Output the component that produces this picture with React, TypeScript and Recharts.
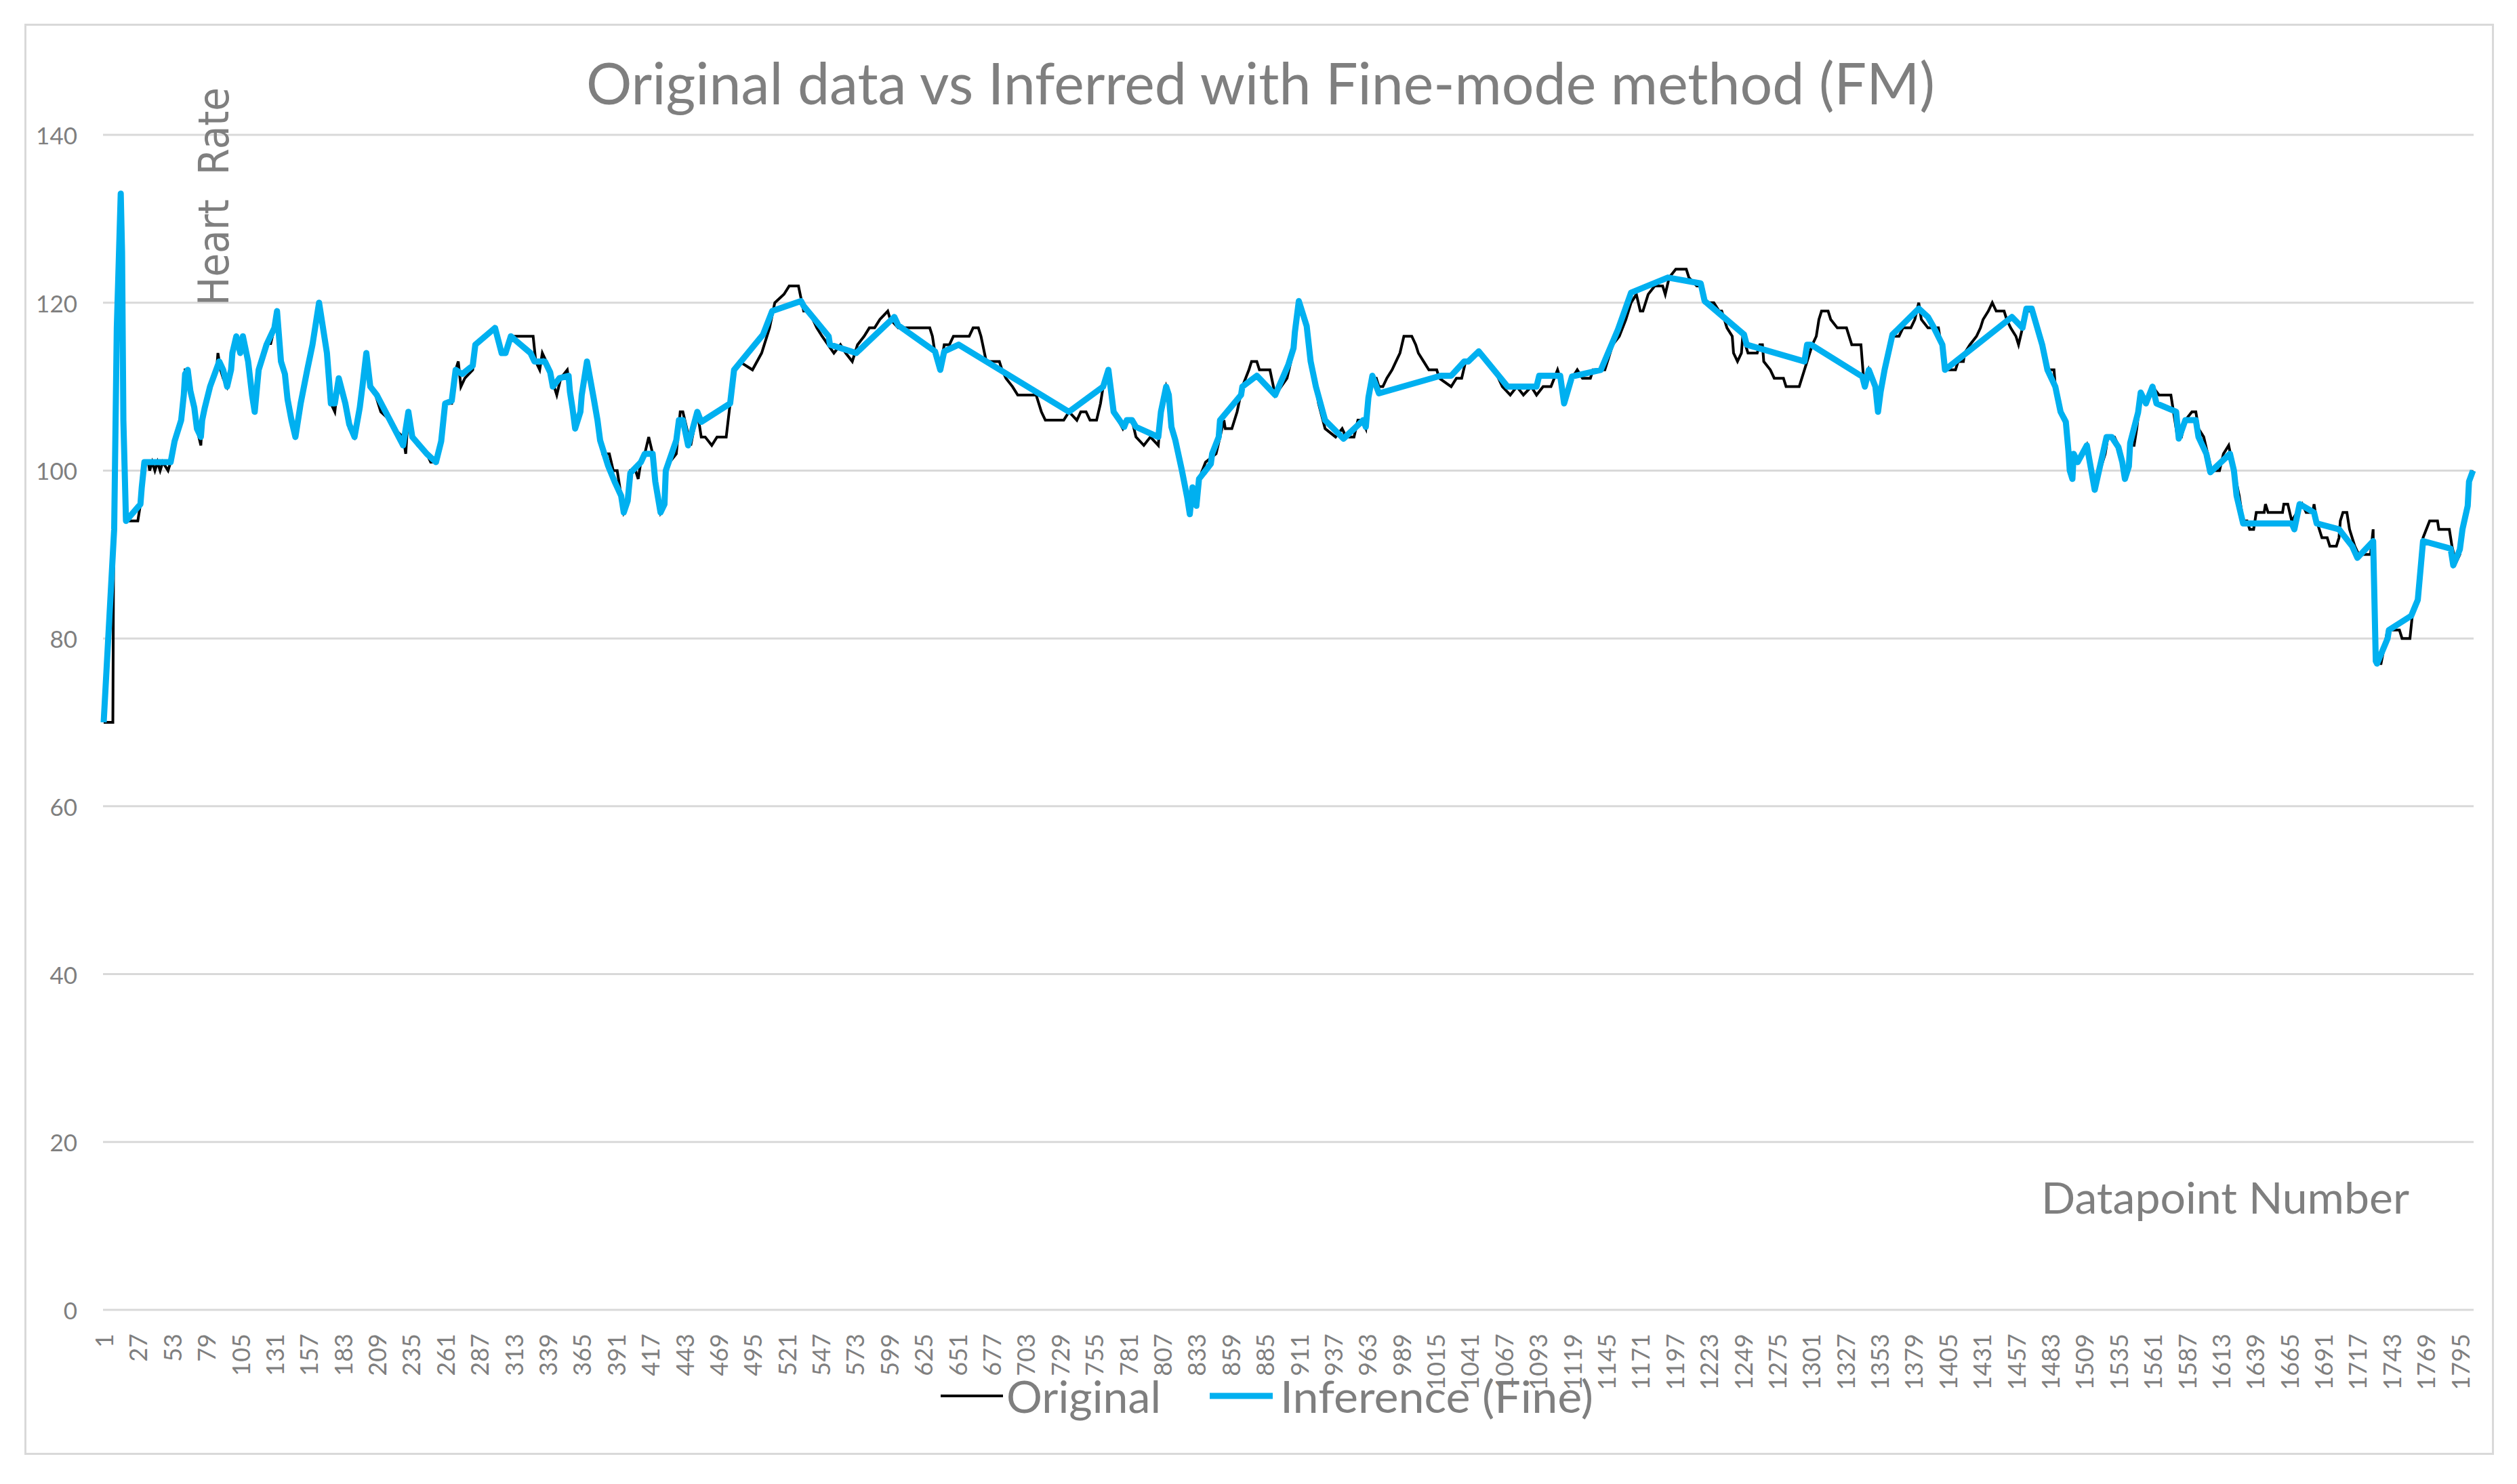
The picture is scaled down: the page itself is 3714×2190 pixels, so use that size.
import React from "react"
import { LineChart, Line, XAxis, YAxis, CartesianGrid, Legend } from "recharts"

// datapoint index / heart rate (vertices of each polyline)
const originalPoints: [number, number][] = [
  [1, 70], [8, 70], [9, 105], [10, 105], [11, 121], [12, 121], [13, 133], [14, 133], [15, 110], [16, 105], [17, 94], [27, 94],
  [29, 96], [30, 98], [31, 101], [35, 101], [36, 100], [38, 101], [40, 100], [42, 101], [44, 100], [46, 101], [50, 100], [52, 101],
  [55, 104], [60, 106], [62, 109], [63, 112], [65, 112], [67, 109], [70, 107], [72, 105], [75, 103], [76, 106], [78, 108], [82, 110],
  [87, 112], [88, 114], [90, 112], [92, 111], [95, 110], [98, 112], [99, 114], [102, 116], [105, 114], [107, 116], [111, 113], [114, 108],
  [116, 107], [119, 112], [125, 115], [127, 116], [128, 115], [131, 117], [133, 119], [136, 113], [139, 111], [141, 108], [144, 106], [147, 104],
  [151, 108], [156, 112], [160, 115], [162, 117], [165, 120], [168, 117], [171, 114], [174, 108], [177, 107], [180, 111], [185, 108], [188, 105],
  [192, 104], [196, 107], [198, 110], [201, 114], [204, 110], [208, 109], [212, 107], [219, 106], [222, 105], [229, 104], [231, 102], [233, 107],
  [236, 104], [240, 103], [247, 102], [250, 101], [254, 101], [258, 103], [261, 108], [266, 108], [269, 112], [271, 113], [273, 110], [276, 111],
  [282, 112], [284, 115], [290, 116], [299, 117], [304, 114], [307, 114], [311, 116], [314, 116], [328, 116], [330, 113], [333, 112], [335, 114],
  [338, 113], [342, 111], [346, 109], [349, 111], [354, 112], [356, 110], [358, 107], [360, 105], [364, 107], [365, 109], [369, 113], [374, 109],
  [377, 106], [379, 104], [381, 102], [386, 102], [389, 100], [392, 100], [395, 97], [397, 95], [400, 96], [402, 100], [406, 100], [408, 99],
  [410, 101], [413, 102], [416, 104], [419, 102], [421, 99], [425, 95], [428, 96], [429, 100], [432, 101], [437, 102], [440, 107], [442, 107],
  [445, 105], [448, 103], [453, 107], [456, 104], [459, 104], [464, 103], [468, 104], [475, 104], [478, 108], [481, 112], [485, 113], [495, 112],
  [502, 114], [508, 117], [512, 120], [519, 121], [523, 122], [530, 122], [534, 119], [538, 119], [544, 117], [548, 116], [557, 114], [562, 115],
  [566, 114], [571, 113], [575, 115], [580, 116], [584, 117], [588, 117], [592, 118], [598, 119], [600, 118], [606, 117], [630, 117], [632, 116],
  [634, 114], [638, 112], [641, 115], [645, 115], [648, 116], [660, 116], [663, 117], [667, 117], [669, 116], [673, 113], [683, 113], [685, 112],
  [688, 111], [693, 110], [697, 109], [711, 109], [715, 107], [718, 106], [732, 106], [736, 107], [742, 106], [745, 107], [749, 107], [752, 106],
  [757, 106], [760, 108], [762, 110], [765, 112], [770, 107], [777, 105], [780, 106], [784, 106], [787, 104], [793, 103], [798, 104], [804, 103],
  [806, 107], [810, 110], [812, 109], [814, 105], [817, 104], [822, 100], [826, 97], [828, 95], [830, 98], [833, 96], [835, 99], [840, 101],
  [848, 102], [851, 104], [854, 106], [855, 105], [860, 105], [864, 107], [868, 110], [873, 112], [875, 113], [879, 113], [881, 112], [889, 112],
  [893, 109], [902, 111], [905, 113], [908, 116], [911, 120], [917, 117], [920, 113], [924, 110], [926, 108], [931, 105], [939, 104], [944, 105],
  [947, 104], [953, 104], [956, 106], [959, 106], [962, 105], [964, 109], [968, 111], [970, 111], [972, 110], [975, 110], [978, 111], [982, 112],
  [985, 113], [988, 114], [991, 116], [997, 116], [1000, 115], [1002, 114], [1006, 113], [1010, 112], [1016, 112], [1018, 111], [1027, 110], [1031, 111],
  [1035, 111], [1038, 113], [1048, 114], [1054, 113], [1060, 112], [1066, 110], [1072, 109], [1077, 110], [1082, 109], [1088, 110], [1092, 109], [1097, 110],
  [1103, 110], [1108, 112], [1110, 111], [1113, 108], [1119, 111], [1123, 112], [1127, 111], [1133, 111], [1135, 112], [1144, 112], [1148, 114], [1150, 115],
  [1155, 116], [1160, 118], [1164, 120], [1168, 121], [1171, 119], [1173, 119], [1177, 121], [1182, 122], [1188, 122], [1190, 121], [1193, 123], [1198, 124],
  [1206, 124], [1208, 123], [1214, 122], [1217, 122], [1220, 120], [1227, 120], [1231, 119], [1233, 119], [1235, 118], [1237, 117], [1241, 116], [1242, 114],
  [1245, 113], [1248, 114], [1249, 116], [1251, 115], [1253, 114], [1260, 114], [1262, 115], [1264, 115], [1265, 113], [1270, 112], [1273, 111], [1280, 111],
  [1282, 110], [1292, 110], [1294, 111], [1298, 113], [1302, 115], [1305, 116], [1307, 118], [1309, 119], [1314, 119], [1316, 118], [1321, 117], [1328, 117],
  [1332, 115], [1339, 115], [1341, 111], [1342, 110], [1345, 112], [1350, 110], [1352, 107], [1354, 109], [1357, 112], [1363, 116], [1368, 116], [1371, 117],
  [1377, 117], [1380, 118], [1383, 120], [1385, 118], [1390, 117], [1398, 117], [1402, 113], [1405, 112], [1411, 112], [1413, 113], [1417, 113], [1418, 114],
  [1422, 115], [1427, 116], [1430, 117], [1432, 118], [1436, 119], [1439, 120], [1442, 119], [1448, 119], [1450, 118], [1453, 117], [1457, 116], [1459, 115],
  [1462, 117], [1464, 119], [1470, 119], [1474, 117], [1478, 115], [1481, 112], [1486, 112], [1487, 110], [1491, 107], [1495, 106], [1497, 102], [1498, 100],
  [1500, 99], [1501, 102], [1504, 101], [1508, 102], [1511, 103], [1517, 98], [1521, 100], [1525, 102], [1527, 104], [1532, 104], [1535, 103], [1538, 101],
  [1540, 99], [1543, 101], [1545, 103], [1547, 103], [1549, 105], [1552, 109], [1556, 108], [1561, 110], [1566, 109], [1575, 109], [1576, 108], [1580, 104],
  [1583, 104], [1586, 106], [1591, 107], [1594, 107], [1596, 105], [1600, 104], [1603, 102], [1606, 100], [1612, 100], [1615, 102], [1619, 103], [1623, 100],
  [1627, 97], [1630, 94], [1633, 94], [1635, 93], [1638, 93], [1640, 95], [1646, 95], [1647, 96], [1649, 95], [1660, 95], [1661, 96], [1664, 96],
  [1667, 94], [1671, 95], [1675, 96], [1678, 95], [1683, 95], [1684, 96], [1686, 94], [1690, 92], [1694, 92], [1696, 91], [1701, 91], [1703, 92],
  [1704, 94], [1706, 95], [1709, 95], [1711, 93], [1715, 91], [1718, 90], [1727, 90], [1729, 93], [1730, 78], [1731, 77], [1735, 77], [1740, 81],
  [1749, 81], [1751, 80], [1757, 80], [1759, 83], [1763, 85], [1767, 92], [1772, 94], [1778, 94], [1779, 93], [1787, 93], [1789, 91], [1792, 89],
  [1795, 90], [1797, 93], [1801, 96], [1802, 99], [1805, 100],
]

const inferencePoints: [number, number][] = [
  [1, 70], [9, 93], [11, 117], [14, 133], [15, 126], [16, 106], [18, 94], [29, 96], [30, 98], [32, 101], [52, 101], [55, 103.5],
  [60, 106], [62, 109], [63, 111.5], [65, 112], [67, 109.5], [70, 107.5], [72, 105], [75, 104], [76, 106], [78, 107.5], [82, 110], [89, 113],
  [92, 112], [95, 110], [98, 112], [99, 114], [102, 116], [105, 114], [107, 116], [111, 113], [114, 109], [116, 107], [119, 112], [125, 115],
  [128, 116], [131, 117], [133, 119], [136, 113], [139, 111.5], [141, 108.5], [144, 106], [147, 104], [151, 108], [156, 112], [160, 115], [165, 120],
  [168, 117], [171, 114], [174, 108], [177, 108], [180, 111], [185, 108], [188, 105.5], [192, 104], [196, 107.5], [198, 110], [201, 114], [204, 110],
  [209, 109], [219, 106], [229, 103], [233, 107], [236, 104], [247, 102], [254, 101], [258, 103.5], [261, 108], [266, 108.3], [269, 112], [274, 111.5],
  [282, 112.5], [284, 115], [299, 117], [304, 114], [307, 114], [311, 116], [326, 114], [329, 113], [337, 113], [341, 111.7], [343, 110], [348, 111],
  [355, 111.3], [356, 109.4], [358, 107.4], [360, 105], [364, 107], [365, 109], [369, 113], [374, 108.7], [377, 106], [379, 103.6], [385, 100.6], [390, 98.7],
  [395, 97], [397, 95], [400, 96.4], [402, 99.7], [410, 101], [413, 102], [419, 102], [421, 98.7], [425, 95], [428, 96], [429, 100], [437, 103.6],
  [439, 106], [442, 106], [446, 103], [453, 107], [456, 105.8], [478, 108], [481, 112], [503, 116.2], [510, 119], [532, 120.2], [534, 119.6], [553, 116],
  [554, 115], [574, 114], [603, 118.3], [606, 117.3], [634, 114.2], [638, 112], [641, 114.2], [652, 115], [736, 107], [762, 110], [766, 112], [770, 107],
  [778, 105.2], [780, 106], [784, 106], [787, 105.2], [804, 104], [806, 107], [810, 110], [812, 109], [814, 105.2], [817, 103.6], [822, 100], [826, 96.8],
  [828, 94.8], [830, 98], [833, 95.8], [835, 99], [844, 100.8], [845, 102], [850, 104], [851, 106], [867, 109], [868, 110], [879, 111.3], [893, 109],
  [903, 112.6], [907, 114.6], [908, 116.5], [911, 120.2], [917, 117.2], [920, 113], [924, 110], [931, 106], [945, 103.8], [960, 106], [962, 105.2], [964, 108.7],
  [967, 111.3], [972, 109.2], [1019, 111.3], [1027, 111.3], [1037, 113], [1040, 113], [1048, 114.2], [1070, 110], [1092, 110], [1094, 111.3], [1110, 111.3], [1113, 108],
  [1119, 111.2], [1141, 112], [1154, 116.8], [1164, 121.2], [1192, 123], [1217, 122.3], [1220, 120.2], [1250, 116.2], [1252, 115], [1296, 113], [1298, 115], [1301, 115],
  [1340, 111.2], [1342, 110], [1345, 112], [1350, 110], [1352, 107], [1354, 109.4], [1357, 112], [1363, 116.2], [1383, 119.3], [1390, 118.3], [1394, 117.2], [1401, 115],
  [1403, 112], [1454, 118.3], [1462, 117], [1465, 119.3], [1469, 119.3], [1477, 115], [1481, 112], [1487, 110], [1491, 107], [1495, 105.8], [1497, 102.3], [1498, 100],
  [1500, 99], [1501, 102], [1504, 101], [1511, 103], [1517, 97.7], [1526, 104], [1530, 104], [1532, 103.5], [1535, 102.8], [1538, 101], [1540, 99], [1543, 100.5],
  [1544, 103.3], [1550, 106.9], [1552, 109.3], [1556, 108], [1561, 110], [1564, 108], [1579, 107], [1581, 103.8], [1586, 106], [1594, 106], [1596, 104], [1602, 102],
  [1605, 99.8], [1620, 102], [1623, 100], [1625, 97], [1630, 93.7], [1667, 93.7], [1669, 93], [1673, 96], [1684, 95], [1686, 93.7], [1703, 93], [1713, 91],
  [1717, 89.6], [1729, 91.6], [1731, 77.3], [1732, 77], [1740, 80], [1741, 81], [1758, 82.7], [1763, 84.6], [1767, 91.6], [1788, 90.7], [1790, 88.7], [1795, 90.6],
  [1797, 93], [1801, 95.8], [1802, 98.7], [1805, 100],
]

const xTicks = [
  1, 27, 53, 79, 105, 131, 157, 183, 209, 235, 261, 287, 313, 339, 365, 391, 417, 443, 469, 495, 521, 547, 573, 599, 625,
  651, 677, 703, 729, 755, 781, 807, 833, 859, 885, 911, 937, 963, 989, 1015, 1041, 1067, 1093, 1119, 1145, 1171, 1197, 1223,
  1249, 1275, 1301, 1327, 1353, 1379, 1405, 1431, 1457, 1483, 1509, 1535, 1561, 1587, 1613, 1639, 1665, 1691, 1717, 1743, 1769, 1795,
]
const yTicks = [0, 20, 40, 60, 80, 100, 120, 140]
const pointCount = 1805

const originalData = originalPoints.map(([i, v]) => ({ i, v }))
const inferenceData = inferencePoints.map(([i, v]) => ({ i, v }))

const GREY = "#7f7f7f"
const FONT = "Lato, 'Open Sans', sans-serif"

const XTick = ({ x, y, payload }: any) => (
  <text
    x={x}
    y={y}
    transform={`rotate(-90, ${x}, ${y})`}
    textAnchor="end"
    dominantBaseline="central"
    fill={GREY}
    fontFamily={FONT}
    fontSize={36}
  >
    {payload.value}
  </text>
)

const YTick = ({ x, y, payload }: any) => (
  <text x={x} y={y} textAnchor="end" dominantBaseline="central" fill={GREY} fontFamily={FONT} fontSize={35}>
    {payload.value}
  </text>
)

const LegendBox = () => (
  <svg width={1000} height={110}>
    <line x1={8} x2={100} y1={60} y2={60} stroke="#000" strokeWidth={4} />
    <text x={105} y={85} fill={GREY} fontFamily={FONT} fontSize={66} textLength={228} lengthAdjust="spacingAndGlyphs">
      Original
    </text>
    <line x1={405} x2={498} y1={60} y2={60} stroke="#00b0f0" strokeWidth={9} />
    <text x={509} y={85} fill={GREY} fontFamily={FONT} fontSize={66} textLength={462} lengthAdjust="spacingAndGlyphs">
      Inference (Fine)
    </text>
  </svg>
)

const App = () => {
  return (
    <div style={{ position: "absolute", left: 0, top: 0, width: 3714, height: 2190, background: "#fff" }}>
      <div
        style={{
          position: "absolute",
          left: 36,
          top: 35,
          width: 3644,
          height: 2112,
          border: "3px solid #d9d9d9",
          boxSizing: "border-box",
        }}
      />
      <svg style={{ position: "absolute", left: 0, top: 0 }} width={3714} height={300}>
        <text
          x={1860}
          y={154}
          textAnchor="middle"
          fill={GREY}
          fontFamily={FONT}
          fontSize={86}
          textLength={1990}
          lengthAdjust="spacingAndGlyphs"
        >
          Original data vs Inferred with Fine-mode method (FM)
        </text>
      </svg>
      <div style={{ position: "absolute", left: 0, top: 0 }}>
        <LineChart width={3714} height={2190} margin={{ top: 199, right: 64, bottom: 0, left: 0 }}>
          <CartesianGrid horizontal vertical={false} stroke="#d9d9d9" strokeWidth={3} />
          <XAxis
            dataKey="i"
            type="number"
            domain={[0.5, pointCount + 0.5]}
            ticks={xTicks}
            interval={0}
            height={257}
            axisLine={false}
            tickLine={false}
            tickSize={0}
            tickMargin={35}
            tick={<XTick />}
            label={{
              content: () => (
                <text
                  x={3012}
                  y={1791}
                  fill={GREY}
                  fontFamily={FONT}
                  fontSize={63}
                  textLength={543}
                  lengthAdjust="spacingAndGlyphs"
                >
                  Datapoint Number
                </text>
              ),
            }}
          />
          <YAxis
            type="number"
            domain={[0, 140]}
            ticks={yTicks}
            interval={0}
            width={152}
            axisLine={false}
            tickLine={false}
            tickSize={0}
            tickMargin={38}
            tick={<YTick />}
            label={{
              content: () => (
                <text
                  x={337}
                  y={451}
                  transform="rotate(-90, 337, 451)"
                  fill={GREY}
                  fontFamily="'DejaVu Sans', sans-serif"
                  fontSize={62}
                  textLength={322}
                  lengthAdjust="spacingAndGlyphs"
                >
                  {"Heart\u00A0 Rate"}
                </text>
              ),
            }}
          />
          <Legend
            layout="horizontal"
            verticalAlign="middle"
            align="center"
            wrapperStyle={{ left: 1380, top: 2000, width: 1000, height: 110 }}
            content={<LegendBox />}
          />
          <Line
            data={originalData}
            dataKey="v"
            name="Original"
            type="linear"
            stroke="#000000"
            strokeWidth={4}
            dot={false}
            activeDot={false}
            isAnimationActive={false}
          />
          <Line
            data={inferenceData}
            dataKey="v"
            name="Inference (Fine)"
            type="linear"
            stroke="#00b0f0"
            strokeWidth={9}
            strokeLinejoin="round"
            dot={false}
            activeDot={false}
            isAnimationActive={false}
          />
        </LineChart>
      </div>
    </div>
  )
}

export default App
